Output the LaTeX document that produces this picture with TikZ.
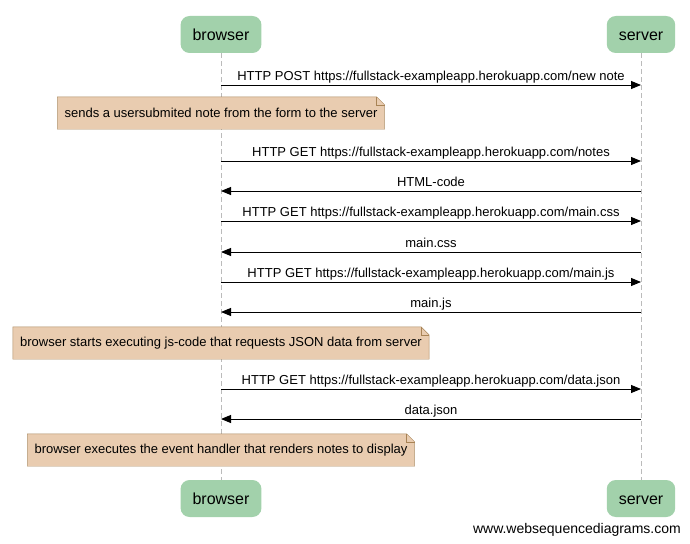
\documentclass[tikz,border=0pt]{standalone}
\usepackage{fontspec}
\setmainfont{Liberation Sans}
\usetikzlibrary{arrows.meta}
\definecolor{actorfill}{HTML}{A2D1AB}
\definecolor{notefill}{HTML}{E9CCB0}
\definecolor{noteline}{HTML}{A88355}
\definecolor{lifegray}{HTML}{BBBBBB}

% dog-eared frame round a note node
\newcommand\noteframe[1]{
  \fill[white] ([xshift=-8pt]#1.north east) -- (#1.north east) -- ([yshift=-8pt]#1.north east) -- cycle;
  \draw[noteline] (#1.north west) -- ([xshift=-8pt]#1.north east) -- ([yshift=-8pt]#1.north east)
    -- (#1.south east) -- (#1.south west) -- cycle;
  \draw[noteline] ([xshift=-8pt]#1.north east) |- ([yshift=-8pt]#1.north east);
}

\begin{document}
\begin{tikzpicture}[
  x=1pt,y=-1pt,
  actor/.style={fill=actorfill,rounded corners=9pt,inner xsep=12pt,
    minimum height=37pt,text height=14pt,text depth=2pt,
    font=\fontsize{16}{18}\selectfont},
  lifeline/.style={lifegray,dash pattern=on 5pt off 3pt},
  msg/.style={line width=0.9pt,-{Triangle[length=10pt,width=8pt]}},
  msglabel/.style={above,inner sep=1.5pt,text depth=3pt,font=\fontsize{13}{15}\selectfont},
  note/.style={fill=notefill,inner xsep=7pt,minimum height=32pt,
    font=\fontsize{13}{15}\selectfont}
]
\useasboundingbox (0,0) rectangle (690,543);

\node[actor] (browser) at (221,34.5) {browser};
\node[actor] (server) at (641,34.5) {server};
\node[actor] (browser2) at (221,498.5) {browser};
\node[actor] (server2) at (641,498.5) {server};

\draw[lifeline] (browser) -- (browser2);
\draw[lifeline] (server) -- (server2);

\foreach \i/\y in {1/85,2/161,3/191,4/221,5/252,6/282,7/312,8/389,9/419}
{
  \coordinate (b\i) at (221,\y);
  \coordinate (s\i) at (641,\y);
}

\draw[msg] (b1) -- node[msglabel] {HTTP POST https://fullstack-exampleapp.herokuapp.com/new note} (s1);

\node[note] (n1) at (221,113) {sends a usersubmited note from the form to the server};
\noteframe{n1}

\draw[msg] (b2) -- node[msglabel] {HTTP GET https://fullstack-exampleapp.herokuapp.com/notes} (s2);
\draw[msg] (s3) -- node[msglabel] {HTML-code} (b3);
\draw[msg] (b4) -- node[msglabel] {HTTP GET https://fullstack-exampleapp.herokuapp.com/main.css} (s4);
\draw[msg] (s5) -- node[msglabel] {main.css} (b5);
\draw[msg] (b6) -- node[msglabel] {HTTP GET https://fullstack-exampleapp.herokuapp.com/main.js} (s6);
\draw[msg] (s7) -- node[msglabel] {main.js} (b7);

\node[note] (n2) at (221,343) {browser starts executing js-code that requests JSON data from server};
\noteframe{n2}

\draw[msg] (b8) -- node[msglabel] {HTTP GET https://fullstack-exampleapp.herokuapp.com/data.json} (s8);
\draw[msg] (s9) -- node[msglabel] {data.json} (b9);

\node[note] (n3) at (221,450) {browser executes the event handler that renders notes to display};
\noteframe{n3}

\node[anchor=base east,inner sep=0pt,font=\fontsize{14}{16}\selectfont] (footer) at (681,533) {www.websequencediagrams.com};
\end{tikzpicture}
\end{document}
